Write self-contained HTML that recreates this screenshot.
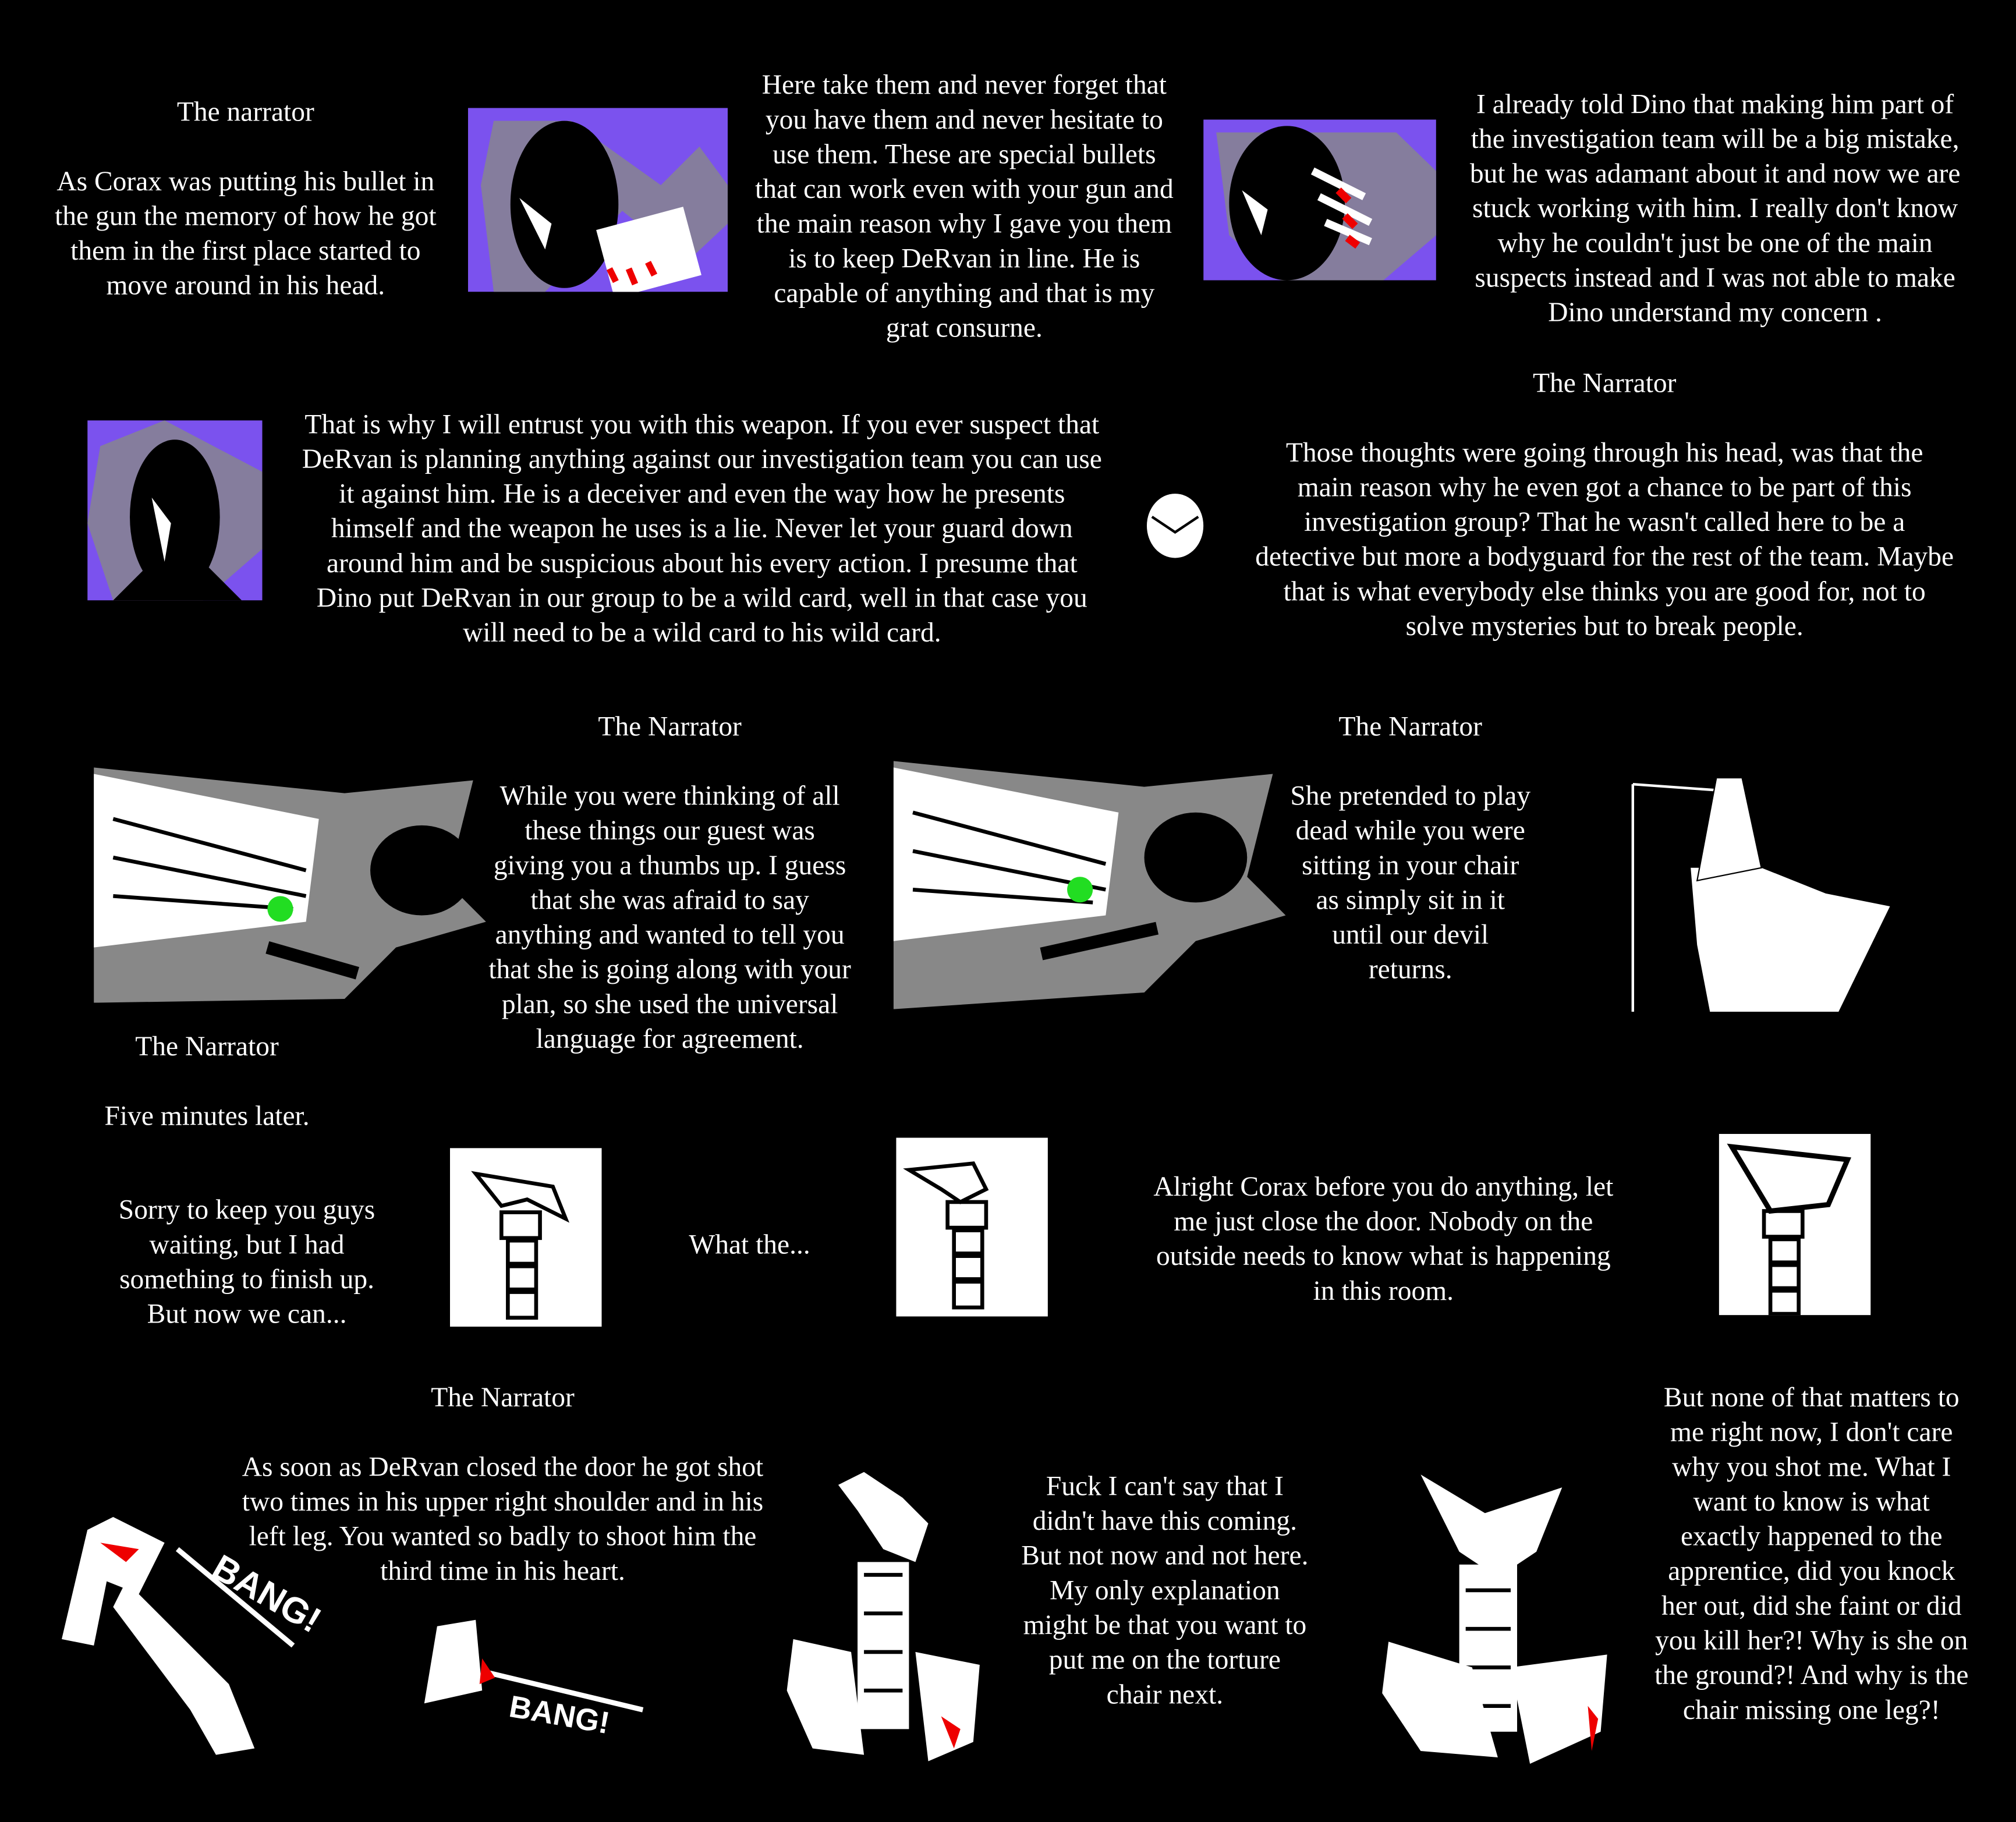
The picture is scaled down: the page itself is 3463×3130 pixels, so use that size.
<!DOCTYPE html>
<html><head><meta charset="utf-8"><style>
html,body{margin:0;padding:0;background:#000;}
body{width:3463px;height:3130px;overflow:hidden;}
#s{position:absolute;left:0;top:0;width:1568px;height:1417px;transform:scale(2.2085);transform-origin:0 0;background:#000;}
.t{position:absolute;color:#fff;font-family:"Liberation Serif",serif;font-size:21.5px;line-height:27px;text-align:center;white-space:nowrap;transform:translateX(-50%);margin-top:1px;}
.p{position:absolute;}
</style></head><body><div id="s">

<div class="t" style="left:191px;top:73px">The narrator<br><br>As Corax was putting his bullet in<br>the gun the memory of how he got<br>them in the first place started to<br>move around in his head.</div>

<svg class="p" style="left:364px;top:84px" width="202" height="143"><rect width="202" height="143" fill="#7b52ee"/><path d="M20 10 L80 10 L150 60 L180 30 L202 60 L202 90 L170 120 L120 80 L60 143 L20 143 L10 60Z" fill="#888" opacity=".8"/><ellipse cx="75" cy="75" rx="42" ry="65" fill="#000"/><path d="M40 70 L60 110 L65 90Z" fill="#fff"/><rect x="105" y="85" width="70" height="55" fill="#fff" transform="rotate(-15 140 110)"/><path d="M110 125 l5 10 M125 125 l5 12 M140 120 l5 10" stroke="#e00" stroke-width="5"/></svg>

<div class="t" style="left:750px;top:52px">Here take them and never forget that<br>you have them and never hesitate to<br>use them. These are special bullets<br>that can work even with your gun and<br>the main reason why I gave you them<br>is to keep DeRvan in line. He is<br>capable of anything and that is my<br>grat consurne.</div>

<svg class="p" style="left:936px;top:93px" width="181" height="125"><rect width="181" height="125" fill="#7b52ee"/><path d="M10 10 L150 10 L181 40 L181 90 L140 125 L60 125 L20 90Z" fill="#888" opacity=".8"/><ellipse cx="65" cy="65" rx="45" ry="60" fill="#000"/><path d="M30 55 L45 90 L50 70Z" fill="#fff"/><path d="M85 40 l40 20 M90 60 l40 20 M95 80 l35 15" stroke="#fff" stroke-width="6"/><path d="M105 55 l8 8 M110 75 l8 8 M112 92 l8 6" stroke="#e00" stroke-width="6"/></svg>

<div class="t" style="left:1334px;top:67px">I already told Dino that making him part of<br>the investigation team will be a big mistake,<br>but he was adamant about it and now we are<br>stuck working with him. I really don't know<br>why he couldn't just be one of the main<br>suspects instead and I was not able to make<br>Dino understand my concern .</div>

<div class="t" style="left:1248px;top:284px">The Narrator</div>

<svg class="p" style="left:68px;top:327px" width="136" height="140"><rect width="136" height="140" fill="#7b52ee"/><path d="M10 20 L60 0 L136 40 L136 100 L90 140 L20 140 L0 80Z" fill="#888" opacity=".8"/><ellipse cx="68" cy="75" rx="35" ry="60" fill="#000"/><path d="M20 140 L50 110 L90 110 L120 140Z" fill="#000"/><path d="M50 60 L60 110 L65 80Z" fill="#fff"/></svg>

<div class="t" style="left:546px;top:316px">That is why I will entrust you with this weapon. If you ever suspect that<br>DeRvan is planning anything against our investigation team you can use<br>it against him. He is a deceiver and even the way how he presents<br>himself and the weapon he uses is a lie. Never let your guard down<br>around him and be suspicious about his every action. I presume that<br>Dino put DeRvan in our group to be a wild card, well in that case you<br>will need to be a wild card to his wild card.</div>

<svg class="p" style="left:890px;top:382px" width="48" height="54"><ellipse cx="24" cy="27" rx="22" ry="25" fill="#fff"/><path d="M6 20 L24 32 L42 20" stroke="#000" stroke-width="2" fill="none"/></svg>

<div class="t" style="left:1248px;top:338px">Those thoughts were going through his head, was that the<br>main reason why he even got a chance to be part of this<br>investigation group? That he wasn't called here to be a<br>detective but more a bodyguard for the rest of the team. Maybe<br>that is what everybody else thinks you are good for, not to<br>solve mysteries but to break people.</div>

<div class="t" style="left:521px;top:551px">The Narrator</div>
<svg class="p" style="left:68px;top:597px" width="310" height="183"><path d="M5 0 L200 20 L300 10 L280 90 L310 120 L240 140 L200 180 L5 183Z" fill="#888"/><path d="M5 5 L180 40 L170 120 L5 140Z" fill="#fff"/><path d="M20 40 L170 80 M20 70 L170 100 M20 100 L160 110" stroke="#000" stroke-width="3"/><ellipse cx="260" cy="80" rx="40" ry="35" fill="#000"/><path d="M140 140 L210 160" stroke="#000" stroke-width="10"/><circle cx="150" cy="110" r="10" fill="#2d2"/></svg>
<div class="t" style="left:521px;top:605px">While you were thinking of all<br>these things our guest was<br>giving you a thumbs up. I guess<br>that she was afraid to say<br>anything and wanted to tell you<br>that she is going along with your<br>plan, so she used the universal<br>language for agreement.</div>

<div class="t" style="left:1097px;top:551px">The Narrator</div>
<svg class="p" style="left:690px;top:592px" width="310" height="193"><path d="M5 0 L200 20 L300 10 L280 90 L310 120 L240 140 L200 180 L5 193Z" fill="#888"/><path d="M5 5 L180 40 L170 120 L5 140Z" fill="#fff"/><path d="M20 40 L170 80 M20 70 L170 100 M20 100 L160 110" stroke="#000" stroke-width="3"/><ellipse cx="240" cy="75" rx="40" ry="35" fill="#000"/><path d="M120 150 L210 130" stroke="#000" stroke-width="10"/><circle cx="150" cy="100" r="10" fill="#2d2"/></svg>
<div class="t" style="left:1097px;top:605px">She pretended to play<br>dead while you were<br>sitting in your chair<br>as simply sit in it<br>until our devil<br>returns.</div>

<svg class="p" style="left:1260px;top:605px" width="210" height="182"><path d="M10 5 L10 182" stroke="#fff" stroke-width="2"/><path d="M10 5 L80 10" stroke="#fff" stroke-width="2"/><path d="M55 70 L110 70 L160 90 L210 100 L170 182 L70 182 L60 130Z" fill="#fff"/><path d="M75 0 L95 0 L110 70 L60 80Z" fill="#fff" stroke="#000"/></svg>

<div class="t" style="left:161px;top:800px">The Narrator</div>
<div class="t" style="left:161px;top:854px">Five minutes later.</div>

<div class="t" style="left:192px;top:927px">Sorry to keep you guys<br>waiting, but I had<br>something to finish up.<br>But now we can...</div>

<svg class="p" style="left:350px;top:893px" width="118" height="139"><rect width="118" height="139" fill="#fff"/><path d="M20 20 L80 30 L90 55 L70 45 L60 40 L40 45Z" fill="none" stroke="#000" stroke-width="3"/><path d="M40 50 h30 v20 h-30z M45 72 h22 v18 h-22z M45 92 h22 v18 h-22z M45 112 h22 v20 h-22z" fill="none" stroke="#000" stroke-width="3"/></svg>
<div class="t" style="left:583px;top:954px">What the...</div>
<svg class="p" style="left:697px;top:885px" width="118" height="139"><rect width="118" height="139" fill="#fff"/><path d="M10 25 L60 20 L70 40 L50 50 L35 40Z" fill="none" stroke="#000" stroke-width="3"/><path d="M40 50 h30 v20 h-30z M45 72 h22 v18 h-22z M45 92 h22 v18 h-22z M45 112 h22 v20 h-22z" fill="none" stroke="#000" stroke-width="3"/></svg>
<div class="t" style="left:1076px;top:909px">Alright Corax before you do anything, let<br>me just close the door. Nobody on the<br>outside needs to know what is happening<br>in this room.</div>
<svg class="p" style="left:1337px;top:882px" width="118" height="141"><rect width="118" height="141" fill="#fff"/><path d="M10 10 L100 20 L85 55 L40 60Z" fill="none" stroke="#000" stroke-width="4"/><path d="M35 60 h30 v20 h-30z M40 82 h22 v18 h-22z M40 102 h22 v18 h-22z M40 122 h22 v18 h-22z" fill="none" stroke="#000" stroke-width="3"/></svg>

<div class="t" style="left:391px;top:1073px">The Narrator</div>
<div class="t" style="left:391px;top:1127px">As soon as DeRvan closed the door he got shot<br>two times in his upper right shoulder and in his<br>left leg. You wanted so badly to shoot him the<br>third time in his heart.</div>

<svg class="p" style="left:48px;top:1180px" width="220" height="190"><path d="M20 10 L40 0 L80 20 L60 60 L35 50 L25 100 L0 95Z" fill="#fff"/><path d="M50 50 L130 130 L150 180 L120 185 L100 150 L40 70Z" fill="#fff"/><path d="M30 20 l30 5 l-10 10z" fill="#e00"/><path d="M90 25 L180 100" stroke="#fff" stroke-width="4"/><text x="115" y="45" fill="#fff" font-family="Liberation Sans,sans-serif" font-weight="bold" font-size="28" transform="rotate(30 115 45)">BANG!</text></svg>
<svg class="p" style="left:320px;top:1255px" width="190" height="100"><path d="M20 10 L50 5 L55 60 L10 70Z" fill="#fff"/><path d="M55 45 L180 75" stroke="#fff" stroke-width="4"/><path d="M55 35 l10 15 l-12 5z" fill="#e00"/><text x="75" y="80" fill="#fff" font-family="Liberation Sans,sans-serif" font-weight="bold" font-size="24" transform="rotate(10 75 80)">BANG!</text></svg>

<svg class="p" style="left:612px;top:1145px" width="160" height="225"><path d="M40 10 L60 0 L90 20 L110 40 L100 70 L75 60 L55 30Z" fill="#fff"/><path d="M55 70 h40 v130 h-40z" fill="#fff"/><path d="M60 80 h30 M60 110 h30 M60 140 h30 M60 170 h30" stroke="#000" stroke-width="3"/><path d="M5 130 L50 140 L60 220 L20 215 L0 170Z M100 140 L150 150 L145 210 L110 225Z" fill="#fff"/><path d="M120 190 l15 10 l-5 15z" fill="#e00"/></svg>
<div class="t" style="left:906px;top:1142px">Fuck I can't say that I<br>didn't have this coming.<br>But not now and not here.<br>My only explanation<br>might be that you want to<br>put me on the torture<br>chair next.</div>

<svg class="p" style="left:1075px;top:1147px" width="180" height="230"><path d="M30 0 L80 30 L140 10 L120 60 L90 80 L60 60Z" fill="#fff"/><path d="M60 70 h45 v130 h-45z" fill="#fff"/><path d="M65 90 h35 M65 120 h35 M65 150 h35 M65 180 h35" stroke="#000" stroke-width="3"/><path d="M5 130 L70 150 L90 220 L30 215 L0 170Z M100 150 L175 140 L170 200 L115 225Z" fill="#fff"/><path d="M160 180 l8 10 l-5 25z" fill="#e00"/></svg>
<div class="t" style="left:1409px;top:1073px">But none of that matters to<br>me right now, I don't care<br>why you shot me. What I<br>want to know is what<br>exactly happened to the<br>apprentice, did you knock<br>her out, did she faint or did<br>you kill her?! Why is she on<br>the ground?! And why is the<br>chair missing one leg?!</div>

</div></body></html>
